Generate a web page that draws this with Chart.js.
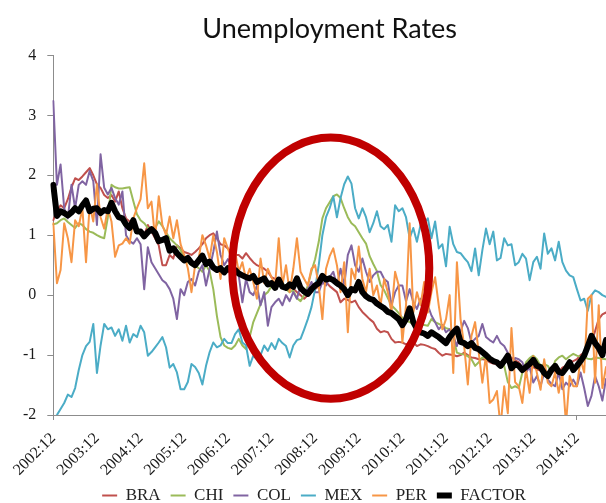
<!DOCTYPE html>
<html>
<head>
<meta charset="utf-8">
<script src="https://cdn.jsdelivr.net/npm/chart.js@4.4.1/dist/chart.umd.min.js"></script>
<style>
  html, body { margin: 0; padding: 0; background: #fff; }
</style>
</head>
<body>
<canvas id="chart-unemp" width="606" height="503"></canvas>
<script>
// monthly categories, 2002:12 .. 2015:08
const FIRST_YEAR = 2002;
const FIRST_MONTH = 12;
const N_MONTHS = 153;
const MONTHS = [];
for (let k = 0; k < N_MONTHS; k++) {
    const m = (FIRST_MONTH - 1 + k) % 12 + 1;
    const y = FIRST_YEAR + Math.floor((FIRST_MONTH - 1 + k) / 12);
    MONTHS.push(y + ':' + String(m).padStart(2, '0'));
}

const SERIES_NAMES = ['BRA', 'CHI', 'COL', 'MEX', 'PER', 'FACTOR'];

const BRA = [
    1.25, 1.40, 1.50, 1.45, 1.60, 1.80, 1.95, 1.92, 1.98, 2.05, 2.12, 2.00,
    1.85, 1.79, 1.67, 1.62, 1.67, 1.56, 1.73, 1.45, 1.28, 1.23, 1.18, 1.10,
    1.06, 1.00, 1.17, 1.06, 0.95, 0.83, 0.50, 0.50, 0.67, 0.61, 0.83, 0.78,
    0.72, 0.70, 0.67, 0.72, 0.78, 0.85, 0.95, 1.00, 1.03, 0.95, 0.85, 0.83,
    0.78, 0.72, 0.67, 0.67, 0.61, 0.70, 0.62, 0.55, 0.50, 0.47, 0.44, 0.39,
    0.30, 0.27, 0.22, 0.16, 0.16, 0.12, 0.11, 0.05, 0.00, -0.06, 0.00, 0.05,
    0.10, 0.15, 0.20, 0.22, 0.15, 0.10, 0.05, -0.12, -0.06, -0.08, -0.12, -0.09,
    -0.20, -0.28, -0.34, -0.40, -0.45, -0.56, -0.62, -0.60, -0.62, -0.73, -0.79, -0.78,
    -0.79, -0.82, -0.80, -0.79, -0.85, -0.82, -0.83, -0.85, -0.88, -0.90, -0.96, -1.01,
    -0.98, -0.99, -1.00, -1.02, -1.00, -0.96, -1.00, -1.04, -1.05, -1.07, -1.07, -1.08,
    -1.12, -1.14, -1.15, -1.12, -1.10, -1.06, -1.04, -1.09, -1.12, -1.21, -1.20, -1.18,
    -1.20, -1.24, -1.26, -1.29, -1.28, -1.26, -1.28, -1.29, -1.21, -1.18, -1.15, -1.10,
    -1.07, -1.00, -0.96, -0.85, -0.79, -0.60, -0.40, -0.32, -0.29
];

const CHI = [
    1.18, 1.20, 1.25, 1.28, 1.22, 1.17, 1.12, 1.20, 1.17, 1.10, 1.06, 1.04,
    1.00, 0.97, 0.95, 1.30, 1.84, 1.80, 1.78, 1.78, 1.79, 1.80, 1.57, 1.35,
    1.25, 1.20, 1.12, 1.10, 1.12, 1.23, 1.15, 1.05, 0.95, 0.89, 0.83, 0.75,
    0.65, 0.55, 0.50, 0.50, 0.45, 0.39, 0.50, 0.40, 0.10, -0.35, -0.70, -0.84,
    -0.88, -0.90, -0.84, -0.73, -0.84, -0.90, -0.70, -0.45, -0.30, -0.15, 0.00, 0.05,
    0.15, 0.22, 0.25, 0.22, 0.10, 0.05, 0.08, -0.05, -0.10, 0.00, 0.16, 0.40,
    0.60, 0.89, 1.28, 1.45, 1.55, 1.65, 1.68, 1.62, 1.45, 1.30, 1.20, 1.15,
    1.05, 0.95, 0.86, 0.65, 0.52, 0.40, 0.17, 0.08, -0.05, -0.17, -0.23, -0.30,
    -0.38, -0.42, -0.45, -0.48, -0.51, -0.48, -0.50, -0.51, -0.40, -0.45, -0.48, -0.51,
    -0.55, -0.57, -0.70, -0.96, -0.98, -0.99, -1.02, -1.07, -1.18, -1.12, -1.04, -1.06,
    -1.04, -1.08, -1.12, -1.15, -1.18, -1.45, -1.55, -1.52, -1.55, -1.29, -1.12, -1.05,
    -1.01, -1.07, -1.18, -1.15, -1.18, -1.29, -1.10, -1.04, -1.01, -1.07, -1.02, -0.98,
    -1.01, -1.03, -1.04, -1.06, -1.07, -1.04, -1.05, -1.06, -1.07
];

const COL = [
    3.24, 1.84, 2.18, 1.45, 1.28, 1.84, 1.45, 1.84, 1.90, 1.84, 2.07, 1.90,
    1.17, 2.35, 1.79, 1.68, 1.79, 1.62, 1.51, 1.73, 1.00, 0.90, 0.86, 0.95,
    0.85, 0.10, 0.80, 0.55, 0.45, 0.35, 0.25, 0.20, 0.10, -0.06, -0.40, 0.10,
    0.00, 0.22, 0.27, 0.16, 0.39, 0.50, 0.16, 0.44, 0.72, 1.06, 0.67, 0.50,
    0.60, 0.50, 0.40, 0.33, -0.12, 0.27, 0.05, 0.00, 0.16, -0.17, 0.05, -0.51,
    -0.20, -0.12, -0.06, -0.17, 0.00, -0.10, 0.05, -0.06, 0.16, 0.05, 0.10, 0.22,
    0.05, 0.05, 0.22, 0.16, 0.30, 0.39, 0.16, 0.44, 0.16, 0.67, 0.83, 0.50,
    0.39, 0.61, 0.39, 0.22, 0.33, 0.39, 0.39, 0.27, 0.22, -0.17, 0.05, 0.16,
    0.16, -0.10, 0.10, -0.12, -0.23, -0.06, -0.40, -0.17, -0.34, -0.45, -0.57, -0.50,
    -0.62, -0.57, -0.68, -0.85, -0.60, -0.43, -0.55, -0.79, -0.73, -0.68, -0.48, -0.70,
    -0.75, -0.79, -0.68, -0.80, -0.85, -0.96, -1.18, -1.05, -1.07, -1.12, -1.29, -1.20,
    -1.46, -1.35, -1.52, -1.29, -1.41, -1.48, -1.52, -1.29, -1.57, -1.46, -1.52, -1.41,
    -1.52, -1.29, -1.55, -1.85, -1.68, -1.35, -1.52, -1.76, -1.40
];

const MEX = [
    -2.08, -2.00, -1.90, -1.80, -1.66, -1.70, -1.55, -1.25, -1.00, -0.85, -0.78, -0.48,
    -1.30, -0.84, -0.48, -0.57, -0.54, -0.68, -0.57, -0.76, -0.51, -0.79, -0.65, -0.70,
    -0.51, -0.62, -1.01, -0.95, -0.87, -0.79, -0.70, -0.87, -1.21, -1.15, -1.29, -1.57,
    -1.57, -1.45, -1.15, -1.20, -1.30, -1.49, -1.18, -0.95, -0.79, -0.87, -0.84, -0.73,
    -0.80, -0.80, -0.65, -0.57, -0.79, -0.84, -1.18, -1.01, -1.07, -1.00, -0.84, -0.93,
    -0.80, -0.90, -0.73, -0.80, -0.85, -1.04, -0.84, -0.75, -0.73, -0.57, -0.40, -0.20,
    0.10, 0.50, 1.00, 1.30, 1.45, 1.65, 1.30, 1.62, 1.85, 1.98, 1.86, 1.45,
    1.28, 1.45, 1.30, 1.05, 1.20, 1.40, 1.15, 1.10, 1.17, 0.89, 1.50, 1.40,
    1.45, 1.30, 0.95, 1.12, 0.89, 1.17, 1.20, 1.28, 0.95, 1.23, 0.78, 0.85,
    0.48, 1.14, 0.85, 0.72, 0.70, 0.62, 0.55, 0.40, 0.78, 0.33, 0.75, 1.11,
    0.85, 1.06, 0.58, 0.62, 0.95, 0.83, 0.85, 0.50, 0.55, 0.69, 0.61, 0.25,
    0.55, 0.64, 0.44, 1.03, 0.69, 0.78, 0.58, 0.89, 0.55, 0.41, 0.33, 0.30,
    0.10, -0.09, -0.06, -0.26, 0.00, 0.08, 0.05, 0.00, -0.03
];

const PER = [
    1.20, 0.20, 0.42, 1.20, 0.95, 0.55, 1.25, 1.15, 1.45, 0.55, 1.50, 1.23,
    1.85, 1.30, 1.11, 1.45, 1.23, 0.64, 0.83, 0.86, 0.95, 0.86, 1.28, 1.45,
    1.60, 2.20, 1.45, 1.56, 0.95, 1.65, 1.17, 1.00, 1.31, 0.95, 1.25, 0.85,
    0.67, 0.45, 0.05, 0.50, 0.61, 1.00, 0.83, 0.61, 1.00, 0.72, 0.27, 0.95,
    0.78, 0.61, 0.72, 0.39, 0.55, 0.27, 0.44, 0.22, -0.06, 0.61, 0.20, 0.44,
    0.30, 0.16, 0.95, 0.16, 0.50, 0.05, 0.44, 0.95, 0.39, 0.27, 0.16, 0.44,
    0.50, 0.16, -0.40, 0.44, 0.65, 0.78, 0.50, 0.05, 0.55, -0.62, 0.44, 0.27,
    0.81, 0.27, 0.05, 0.44, 0.00, 0.16, -0.17, 0.27, 0.05, -0.29, 0.39, 0.16,
    -0.79, -0.17, 1.20, -0.29, 0.05, -0.17, 0.22, -0.29, 0.05, 0.30, -0.17, -0.57,
    -0.40, 0.00, -1.30, 0.55, -0.40, -0.85, -1.49, -0.68, -0.45, -0.96, -1.46, -1.00,
    -1.80, -1.74, -1.60, -2.20, -1.52, -1.97, -0.55, -1.45, -1.52, -1.80, -1.24, -1.63,
    -1.02, -1.30, -1.58, -1.07, -1.46, -1.52, -1.29, -1.63, -1.29, -2.15, -1.35, -1.52,
    -1.52, -1.07, -1.29, -0.06, 0.00, -1.46, -0.17, -1.55, -1.20
];

const FACTOR = [
    1.84, 1.32, 1.40, 1.37, 1.33, 1.38, 1.45, 1.40, 1.50, 1.58, 1.40, 1.44,
    1.45, 1.37, 1.42, 1.40, 1.54, 1.40, 1.30, 1.28, 1.18, 1.12, 1.25, 1.06,
    1.06, 0.98, 1.05, 1.10, 1.04, 0.90, 0.92, 0.95, 0.74, 0.78, 0.70, 0.64,
    0.58, 0.62, 0.54, 0.50, 0.58, 0.66, 0.52, 0.56, 0.46, 0.42, 0.45, 0.38,
    0.45, 0.40, 0.42, 0.36, 0.33, 0.30, 0.28, 0.32, 0.22, 0.25, 0.28, 0.18,
    0.20, 0.12, 0.26, 0.14, 0.12, 0.18, 0.14, 0.28, 0.12, 0.06, 0.02, 0.10,
    0.16, 0.20, 0.32, 0.26, 0.28, 0.25, 0.20, 0.16, 0.10, 0.00, 0.10, 0.08,
    0.22, 0.05, -0.02, -0.06, -0.08, -0.14, -0.18, -0.22, -0.28, -0.30, -0.35, -0.40,
    -0.50, -0.40, -0.22, -0.45, -0.56, -0.62, -0.64, -0.68, -0.62, -0.66, -0.70, -0.75,
    -0.80, -0.70, -0.62, -0.56, -0.78, -0.80, -0.85, -0.80, -0.88, -0.90, -0.95, -1.00,
    -1.06, -1.10, -1.12, -1.18, -1.10, -1.01, -1.22, -1.15, -1.18, -1.25, -1.20, -1.15,
    -1.08, -1.18, -1.20, -1.30, -1.35, -1.25, -1.18, -1.28, -1.30, -1.22, -1.12, -1.25,
    -1.18, -1.10, -1.01, -0.85, -0.68, -0.80, -0.88, -1.00, -0.75
];

const Y_MIN = -2;
const Y_MAX = 4;
const Y_STEP = 1;

// red ring, in data units (month index, value)
const HIGHLIGHT = { month: 76.3, value: 0.45, halfMonths: 27.1, halfValue: 2.18 };

const COLORS = ['#C0504D', '#9BBB59', '#8064A2', '#4BACC6', '#F79646', '#000000'];
const AXIS_GREY = '#8c8c8c';
const SERIF = 'Liberation Serif';

[BRA, CHI, COL, MEX, PER, FACTOR].forEach((s, k) => {
    if (s.length !== MONTHS.length) throw new Error(SERIES_NAMES[k] + ' has ' + s.length);
});

const isYearEnd = (i) => MONTHS[i] && MONTHS[i].endsWith(':12');

const ringPlugin = {
    id: 'ring',
    afterDatasetsDraw(chart) {
        const x = chart.scales.x, y = chart.scales.y;
        const cx = x.getPixelForValue(HIGHLIGHT.month);
        const cy = y.getPixelForValue(HIGHLIGHT.value);
        const rx = x.getPixelForValue(HIGHLIGHT.month + HIGHLIGHT.halfMonths) - cx;
        const ry = cy - y.getPixelForValue(HIGHLIGHT.value + HIGHLIGHT.halfValue);
        const ctx = chart.ctx;
        ctx.save();
        ctx.beginPath();
        ctx.ellipse(cx, cy, rx, ry, 0, 0, Math.PI * 2);
        ctx.lineWidth = 8;
        ctx.strokeStyle = '#C00000';
        ctx.stroke();
        ctx.restore();
    }
};

const allSeries = [BRA, CHI, COL, MEX, PER, FACTOR];
const datasets = allSeries.map((data, k) => {
    const isFactor = SERIES_NAMES[k] === 'FACTOR';
    return {
        label: SERIES_NAMES[k],
        data,
        borderColor: COLORS[k],
        backgroundColor: COLORS[k],
        borderWidth: isFactor ? 6 : 2,
        borderCapStyle: 'round',
        borderJoinStyle: 'round',
        pointRadius: 0,
        tension: 0,
        fill: false,
        order: allSeries.length - k
    };
});

new Chart(document.getElementById('chart-unemp'), {
    type: 'line',
    data: { labels: MONTHS, datasets },
    options: {
        responsive: false,
        animation: false,
        layout: { padding: { left: 22, right: 0, top: 0, bottom: -11 } },
        plugins: {
            title: {
                display: true,
                fullSize: false,
                text: 'Unemployment Rates',
                color: '#111',
                font: { family: 'Lato', size: 27, weight: 'normal' },
                padding: { top: 13, bottom: 10 }
            },
            legend: {
                position: 'bottom',
                labels: {
                    usePointStyle: true,
                    pointStyle: 'line',
                    pointStyleWidth: 15,
                    color: '#222',
                    font: { family: SERIF, size: 17 },
                    padding: 10,
                    sort: (a, b) => a.datasetIndex - b.datasetIndex
                }
            },
            tooltip: { enabled: false }
        },
        scales: {
            x: {
                afterFit: (s) => { s.height = 62; },
                ticks: {
                    autoSkip: false,
                    minRotation: 45,
                    maxRotation: 45,
                    padding: 9,
                    color: '#1a1a1a',
                    font: { family: SERIF, size: 16 },
                    callback: (v, i) => isYearEnd(i) ? MONTHS[i] : null
                },
                grid: {
                    drawOnChartArea: false,
                    tickLength: 5,
                    color: (c) => isYearEnd(c.index) ? AXIS_GREY : 'rgba(0,0,0,0)'
                },
                border: { color: AXIS_GREY }
            },
            y: {
                min: Y_MIN,
                max: Y_MAX,
                afterFit: (s) => { s.width = 31.3; },
                ticks: {
                    stepSize: Y_STEP,
                    padding: 11,
                    color: '#1a1a1a',
                    font: { family: SERIF, size: 16 }
                },
                grid: { drawOnChartArea: false, tickLength: 6, color: AXIS_GREY },
                border: { color: AXIS_GREY }
            }
        }
    },
    plugins: [ringPlugin]
});
</script>
</body>
</html>
